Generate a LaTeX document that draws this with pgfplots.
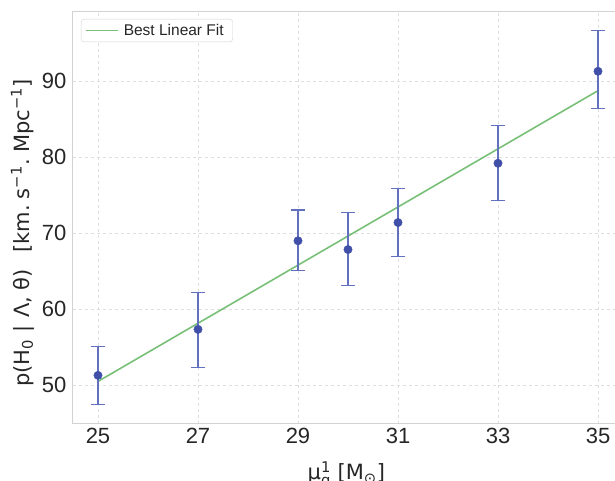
\documentclass[border=0pt]{standalone}
\usepackage{fontspec}
\setmainfont{Liberation Sans}
\newfontfamily\dejavu{DejaVu Sans}
\usepackage{amsmath}
\usepackage{pgfplots}
\pgfplotsset{compat=1.18}

\definecolor{ptblue}{RGB}{64,80,168}
\definecolor{barblue}{RGB}{98,112,192}
\definecolor{fitgreen}{RGB}{120,192,120}
\definecolor{spinec}{RGB}{210,210,210}
\definecolor{gridc}{RGB}{222,222,222}
\definecolor{txt}{RGB}{38,38,38}

\pgfplotstableread{
x y ep em
25 51.3 3.8 3.8
27 57.35 4.85 5.05
29 69.0 4.05 3.95
30 67.85 4.9 4.7
31 71.4 4.45 4.45
33 79.2 5.0 4.9
35 91.3 5.35 4.9
}\hzero

\pgfplotstableread{
x y
25 50.5
35 88.75
}\fitline

\begin{document}
\begin{tikzpicture}
\useasboundingbox (-73pt,-57pt) rectangle (542pt,424pt);
\begin{axis}[
    at={(0,0)}, anchor=south west,
    scale only axis,
    width=550pt, height=412pt,
    xmin=24.5, xmax=35.5,
    ymin=44.9, ymax=99.1,
    xtick={25,27,29,31,33,35},
    ytick={50,60,70,80,90},
    axis line style={spinec, line width=1pt},
    major tick length=0pt,
    grid=major,
    grid style={gridc, dashed, line width=0.7pt},
    /pgf/number format/assume math mode=true,
    tick label style={font=\fontsize{22}{25}\selectfont, text=txt},
    yticklabel style={xshift=-3pt},
    xticklabel style={yshift=-1pt},
    every axis y label/.style={at={(axis description cs:-0.092,0.463)}, rotate=90, anchor=center,
        font=\dejavu\fontsize{21}{24}\selectfont, text=txt},
    every axis x label/.style={at={(axis description cs:0.497,-0.083)}, anchor=north,
        font=\dejavu\fontsize{21}{24}\selectfont, text=txt},
    ylabel={p(H\textsubscript{0}\hspace{0.35em}|\hspace{0.35em}Λ,\hspace{0.3em}θ)\hspace{0.8em}[km.\hspace{0.3em}s\textsuperscript{−1}.\hspace{0.3em}Mpc\textsuperscript{−1}]},
    xlabel={μ$^{\text{1}}_{\text{g}}$ [M$_{\text{⊙}}$]},
    legend style={at={(axis description cs:0.0145,0.983)}, anchor=north west,
        draw=spinec, rounded corners=3pt, fill=white, text=txt,
        font=\fontsize{15.5}{18}\selectfont,
        inner xsep=4pt, inner ysep=3pt,
        nodes={inner xsep=5pt}},
    legend image code/.code={\draw[fitgreen, line width=1.6pt] (0pt,0pt) -- (32pt,0pt);},
    legend cell align=left,
]
\addplot[fitgreen, line width=1.6pt] table[x=x, y=y] {\fitline};
\addlegendentry{Best Linear Fit}

\addplot[only marks, mark=*, mark size=4.2pt, mark options={fill=ptblue, draw=ptblue},
    error bars/.cd, y dir=both, y explicit,
    error bar style={barblue, line width=1.3pt},
    error mark options={barblue, line width=1.3pt, mark size=7pt, rotate=90}]
    table[x=x, y=y, y error plus=ep, y error minus=em] {\hzero};
\end{axis}
\end{tikzpicture}
\end{document}
